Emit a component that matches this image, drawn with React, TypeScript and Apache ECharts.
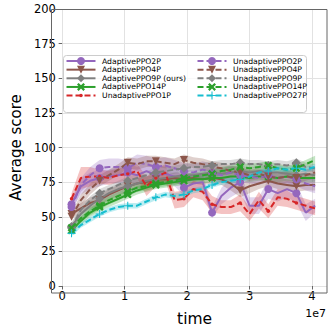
import React, { useEffect, useRef } from "react";
import * as echarts from "echarts";

// timesteps in units of 1e7
const steps = [0.15, 0.3, 0.45, 0.6, 0.75, 0.9, 1.05, 1.2, 1.35, 1.5, 1.65, 1.8, 1.95, 2.1, 2.25, 2.4, 2.55, 2.7, 2.85, 3.0, 3.15, 3.3, 3.45, 3.6, 3.75, 3.9, 4.05];

const adaptive2P = [59, 72, 76, 78, 79, 80, 82, 80, 83, 80, 81, 79, 71, 74, 75, 53, 65, 71, 75, 58, 58, 70, 67, 70, 67, 53, 58];
const adaptive2PStd = [4, 6, 6, 6, 5, 6, 7, 6, 7, 6, 6, 7, 6, 5, 6, 4, 6, 7, 7, 6, 6, 7, 6, 6, 7, 6, 5];
const adaptive4P = [52, 56, 60, 62, 66, 69, 72, 74, 75, 77, 77, 78, 77, 78, 77, 78, 77, 74, 69, 72, 74, 76, 74, 73, 72, 73, 73];
const adaptive4PStd = [3, 4, 4, 4, 4, 4, 4, 4, 4, 4, 3, 4, 4, 4, 4, 4, 4, 5, 5, 5, 4, 4, 4, 4, 4, 4, 4];
const adaptive9P = [43, 52, 58, 63, 67, 70, 72, 74, 76, 77, 78, 79, 80, 80, 81, 82, 81, 82, 83, 82, 83, 82, 82, 81, 80, 81, 80];
const adaptive9PStd = [3, 4, 4, 4, 4, 4, 4, 4, 3, 4, 4, 3, 4, 4, 4, 3, 4, 4, 4, 3, 4, 4, 4, 3, 4, 4, 4];
const adaptive14P = [40, 47, 53, 57, 60, 63, 66, 69, 71, 73, 74, 75, 76, 77, 77, 78, 78, 79, 79, 78, 79, 79, 78, 79, 78, 78, 78];
const adaptive14PStd = [2, 3, 3, 3, 3, 3, 3, 3, 3, 3, 3, 3, 3, 3, 3, 3, 3, 3, 3, 3, 3, 3, 3, 3, 3, 3, 3];
const unadaptive1P = [63, 78, 79, 79, 78, 80, 81, 83, 72, 78, 82, 62, 63, 70, 68, 59, 57, 57, 60, 52, 62, 54, 64, 63, 60, 58, 56];
const unadaptive1PStd = [4, 8, 7, 5, 5, 5, 5, 5, 7, 6, 6, 6, 6, 6, 6, 6, 5, 5, 6, 5, 6, 5, 6, 6, 5, 5, 5];
const unadaptive2P = [57, 73, 80, 85, 86, 86, 85, 89, 88, 86, 87, 85, 83, 82, 84, 82, 80, 82, 80, 79, 78, 80, 78, 79, 77, 74, 72];
const unadaptive2PStd = [4, 5, 6, 6, 6, 6, 6, 6, 6, 6, 6, 6, 6, 6, 6, 6, 5, 5, 5, 5, 5, 5, 5, 5, 5, 5, 5];
const unadaptive4P = [50, 62, 70, 76, 80, 84, 89, 88, 90, 90, 89, 88, 91, 89, 88, 86, 85, 83, 82, 80, 81, 79, 78, 79, 78, 80, 82];
const unadaptive4PStd = [3, 4, 4, 4, 4, 4, 4, 4, 4, 4, 4, 4, 4, 4, 4, 4, 4, 4, 4, 4, 4, 4, 4, 4, 4, 4, 4];
const unadaptive9P = [42, 55, 62, 67, 70, 73, 76, 78, 80, 82, 83, 84, 85, 86, 86, 87, 88, 88, 89, 88, 88, 87, 88, 87, 89, 86, 85];
const unadaptive9PStd = [3, 3, 3, 3, 3, 3, 3, 3, 3, 3, 3, 3, 3, 3, 3, 3, 3, 3, 3, 3, 3, 3, 3, 3, 3, 3, 3];
const unadaptive14P = [42, 49, 54, 58, 62, 65, 68, 71, 72, 74, 75, 76, 78, 79, 80, 81, 83, 84, 86, 85, 86, 87, 85, 84, 85, 88, 91];
const unadaptive14PStd = [2, 3, 3, 3, 3, 3, 3, 3, 3, 3, 3, 3, 3, 3, 3, 3, 3, 3, 3, 3, 3, 3, 3, 3, 3, 3, 3];
const unadaptive27P = [38, 44, 48, 52, 55, 57, 58, 58, 61, 64, 66, 65, 66, 69, 70, 73, 75, 76, 77, 79, 82, 83, 85, 84, 85, 84, 86];
const unadaptive27PStd = [2, 2, 2, 2, 2, 2, 2, 2, 2, 2, 2, 2, 2, 2, 2, 2, 2, 2, 2, 2, 2, 2, 2, 2, 2, 2, 2];

const legendLeft = ["AdaptivePPO2P", "AdaptivePPO4P", "AdaptivePPO9P (ours)", "AdaptivePPO14P", "UnadaptivePPO1P"];
const legendRight = ["UnadaptivePPO2P", "UnadaptivePPO4P", "UnadaptivePPO9P", "UnadaptivePPO14P", "UnadaptivePPO27P"];
const xTicks = [0, 1, 2, 3, 4];

const SYM_CIRCLE = "circle";
const SYM_TRI_DOWN = "path://M0,0L10,0L5,9Z";
const SYM_DIAMOND = "diamond";
const SYM_X = "path://M2,0L5,3L8,0L10,2L7,5L10,8L8,10L5,7L2,10L0,8L3,5L0,2Z";
const SYM_DOT = "path://M0,0M10,10M5,2.8A2.2,2.2,0,1,1,5,7.2A2.2,2.2,0,1,1,5,2.8Z";
const SYM_PLUS = "path://M4.35,0H5.65V4.35H10V5.65H5.65V10H4.35V5.65H0V4.35H4.35Z";

const seriesDefs = [
  { name: "AdaptivePPO2P", mean: adaptive2P, std: adaptive2PStd, color: "#9467bd", dashed: false, symbol: SYM_CIRCLE, size: 8 },
  { name: "AdaptivePPO4P", mean: adaptive4P, std: adaptive4PStd, color: "#8c564b", dashed: false, symbol: SYM_TRI_DOWN, size: 8 },
  { name: "AdaptivePPO9P (ours)", mean: adaptive9P, std: adaptive9PStd, color: "#7f7f7f", dashed: false, symbol: SYM_DIAMOND, size: 9 },
  { name: "AdaptivePPO14P", mean: adaptive14P, std: adaptive14PStd, color: "#2ca02c", dashed: false, symbol: SYM_X, size: 8 },
  { name: "UnadaptivePPO1P", mean: unadaptive1P, std: unadaptive1PStd, color: "#d62728", dashed: true, symbol: SYM_DOT, size: 8 },
  { name: "UnadaptivePPO2P", mean: unadaptive2P, std: unadaptive2PStd, color: "#9467bd", dashed: true, symbol: SYM_CIRCLE, size: 8 },
  { name: "UnadaptivePPO4P", mean: unadaptive4P, std: unadaptive4PStd, color: "#8c564b", dashed: true, symbol: SYM_TRI_DOWN, size: 8 },
  { name: "UnadaptivePPO9P", mean: unadaptive9P, std: unadaptive9PStd, color: "#7f7f7f", dashed: true, symbol: SYM_DIAMOND, size: 9 },
  { name: "UnadaptivePPO14P", mean: unadaptive14P, std: unadaptive14PStd, color: "#2ca02c", dashed: true, symbol: SYM_X, size: 8 },
  { name: "UnadaptivePPO27P", mean: unadaptive27P, std: unadaptive27PStd, color: "#17becf", dashed: true, symbol: SYM_PLUS, size: 8 },
];

const FONT = "DejaVu Sans";

export default function App() {
  const ref = useRef<HTMLDivElement>(null);
  useEffect(() => {
    if (!ref.current) return;
    const chart = echarts.init(ref.current, undefined, { renderer: "svg" });
    const series: any[] = [];
    seriesDefs.forEach((d) => {
      series.push({
        type: "custom",
        name: d.name + "__band",
        data: [[steps[0], d.mean[0]]],
        silent: true,
        clip: true,
        z: 1,
        renderItem: (_params: any, api: any) => {
          const upper = steps.map((x, i) => api.coord([x, d.mean[i] + d.std[i]]));
          const lower = steps.map((x, i) => api.coord([x, d.mean[i] - d.std[i]])).reverse();
          return {
            type: "polygon",
            shape: { points: upper.concat(lower) },
            style: { fill: d.color, opacity: 0.28 },
          };
        },
      });
    });
    seriesDefs.forEach((d) => {
      series.push({
        type: "line",
        name: d.name,
        data: steps.map((x, i) => [x, d.mean[i]]),
        symbol: d.symbol,
        symbolSize: (_v: any, p: any) => (p.dataIndex % 3 === 0 ? d.size : 0),
        showAllSymbol: true,
        color: d.color,
        itemStyle: { color: d.color, opacity: 1 },
        lineStyle: { color: d.color, width: 2, type: d.dashed ? [6, 3] : "solid" },
        z: 2,
      });
    });
    const legendCommon = {
      orient: "vertical",
      top: 57,
      itemWidth: 29,
      itemHeight: 10,
      itemGap: 0.65,
      padding: 0,
      textStyle: { fontFamily: FONT, fontSize: 7.7, color: "#000", padding: [0, 0, 0, 1.5] },
      z: 20,
      selectedMode: false,
    };
    chart.setOption({
      animation: false,
      backgroundColor: "#fff",
      grid: { left: 53.3, right: 5, top: 9, bottom: 39, containLabel: false },
      xAxis: {
        type: "value",
        min: 0,
        max: 4.24,
        interval: 1,
        axisLine: { show: false },
        axisTick: { show: true, length: 3.5, lineStyle: { color: "#666" }, customValues: xTicks },
        axisLabel: {
          customValues: xTicks,
          fontFamily: FONT,
          fontSize: 11.5,
          color: "#000",
          margin: 4,
          formatter: (v: number) => (Number.isInteger(v) ? String(v) : ""),
        },
        splitLine: { show: true, lineStyle: { color: "#e2e2e2", width: 1 } },
        name: "time",
        nameLocation: "middle",
        nameGap: 25,
        nameTextStyle: { fontFamily: FONT, fontSize: 15.5, color: "#000" },
      },
      yAxis: {
        type: "value",
        min: 0,
        max: 200,
        interval: 25,
        offset: 2.3,
        axisLine: { show: false },
        axisTick: { show: true, length: 3.5, lineStyle: { color: "#666" } },
        axisLabel: { fontFamily: FONT, fontSize: 11.5, color: "#000", margin: 4 },
        splitLine: { show: true, lineStyle: { color: "#e2e2e2", width: 1 } },
        name: "Average score",
        nameLocation: "middle",
        nameGap: 34,
        nameTextStyle: { fontFamily: FONT, fontSize: 15, color: "#000" },
      },
      legend: [
        { ...legendCommon, left: 65.5, data: legendLeft },
        { ...legendCommon, left: 196.5, data: legendRight },
      ],
      graphic: [
        {
          type: "rect",
          shape: { x: 51.5, y: 9.5, width: 275.5, height: 283.5 },
          style: { fill: "none", stroke: "#666", lineWidth: 1 },
          z: 10,
          silent: true,
        },
        {
          type: "rect",
          shape: { x: 63.5, y: 55.5, width: 243, height: 57, r: 3 },
          style: { fill: "rgba(255,255,255,0.8)", stroke: "#cccccc", lineWidth: 1 },
          z: 15,
          silent: true,
        },
        {
          type: "text",
          x: 326,
          y: 313,
          style: { text: "1e7", fontFamily: FONT, fontSize: 11, fill: "#000", align: "right", verticalAlign: "middle" },
          z: 20,
        },
      ],
      series,
    });
    return () => chart.dispose();
  }, []);
  return <div ref={ref} style={{ position: "absolute", left: 0, top: 0, width: 332, height: 332 }} />;
}
